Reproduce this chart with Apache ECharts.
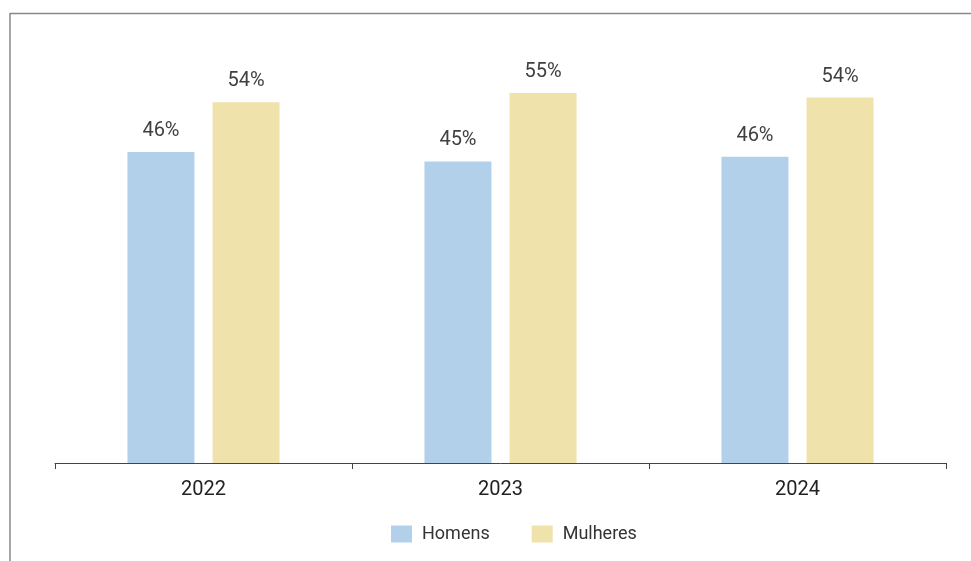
<!DOCTYPE html>
<html>
<head>
<meta charset="utf-8">
<script src="https://cdn.jsdelivr.net/npm/echarts@6/dist/echarts.min.js"></script>
<style>
html,body{margin:0;padding:0;background:#fff;}
#chart{width:971px;height:561px;}
</style>
</head>
<body>
<div id="chart"></div>
<script>
const categories = ['2022', '2023', '2024'];
const homens = [46.3, 44.9, 45.6];
const mulheres = [53.7, 55.1, 54.4];
const seriesNames = ['Homens', 'Mulheres'];

const chart = echarts.init(document.getElementById('chart'));
const labelCfg = {
  show: true,
  position: 'top',
  distance: 11,
  color: '#404040',
  fontSize: 20,
  fontFamily: 'Roboto',
  formatter: p => Math.round(p.value) + '%'
};
chart.setOption({
  animation: false,
  textStyle: { fontFamily: 'Roboto' },
  graphic: [
    { type: 'line', shape: { x1: 10, y1: 13.5, x2: 971, y2: 13.5 }, style: { stroke: '#888', lineWidth: 1.5 } },
    { type: 'line', shape: { x1: 10, y1: 13, x2: 10, y2: 561 }, style: { stroke: '#888', lineWidth: 1.5 } }
  ],
  grid: { left: 55, right: 25, top: 60, bottom: 98 },
  legend: {
    data: seriesNames,
    top: 520,
    left: 386,
    icon: 'rect',
    itemWidth: 21,
    itemHeight: 17,
    itemGap: 42,
    textStyle: { fontSize: 18, color: '#333', fontFamily: 'Roboto', padding: [0, 0, 0, 5] }
  },
  xAxis: {
    type: 'category',
    data: categories,
    axisLine: { lineStyle: { color: '#444', width: 1 } },
    axisTick: { show: true, length: 6, lineStyle: { color: '#444' } },
    axisLabel: { fontSize: 20, color: '#222', margin: 17, fontFamily: 'Roboto' }
  },
  yAxis: {
    type: 'value', min: 0, max: 60, show: false,
    splitLine: { show: false }
  },
  series: [
    { name: seriesNames[0], type: 'bar', data: homens, barWidth: 67, barGap: '27%',
      itemStyle: { color: '#b3d0eb' }, label: labelCfg },
    { name: seriesNames[1], type: 'bar', data: mulheres, barWidth: 67,
      itemStyle: { color: '#f0e2ab' }, label: labelCfg }
  ]
});
</script>
</body>
</html>
